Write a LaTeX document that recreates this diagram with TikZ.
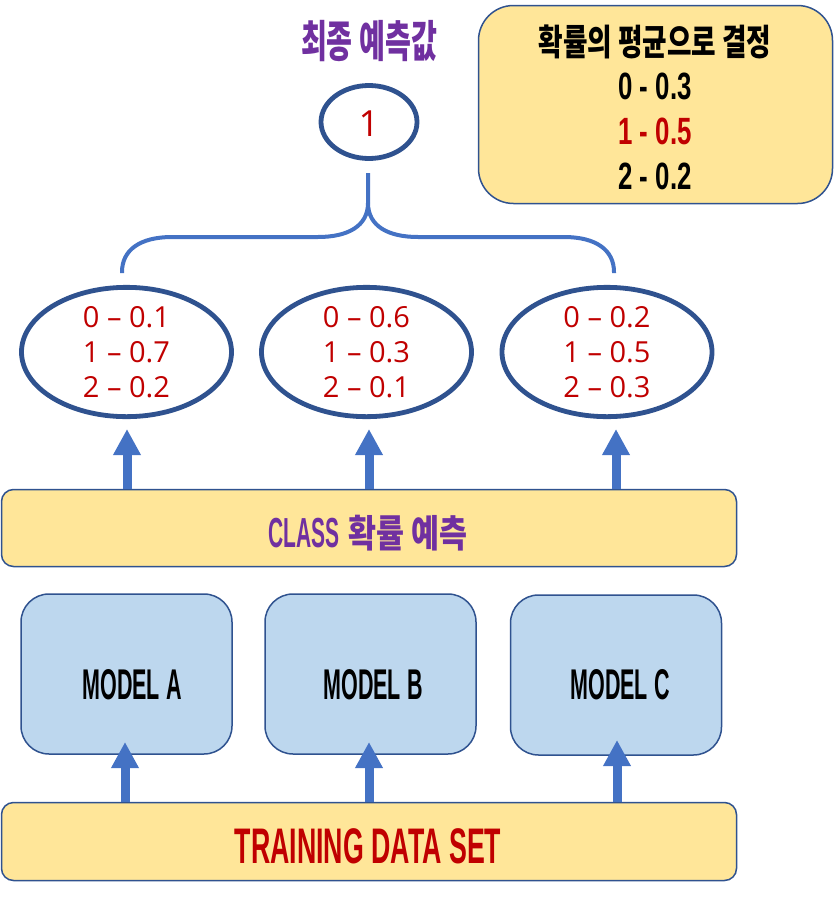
\documentclass[tikz,border=0pt]{standalone}
\usepackage{fontspec}
\usetikzlibrary{shapes.geometric,arrows.meta}
\newfontfamily\agency[FakeStretch=0.5]{Liberation Sans}
\newfontfamily\agencywide[FakeStretch=0.535]{Liberation Sans}
\newfontfamily\agencynum[FakeStretch=0.68]{Liberation Sans}
\newfontfamily\kortitle[FakeStretch=0.64]{Noto Sans CJK KR}
\newfontfamily\korhead[FakeStretch=0.74]{Noto Sans CJK KR}
\newfontfamily\korcls[FakeStretch=0.8]{Noto Sans CJK KR}
\newfontfamily\segoe{Open Sans}
\definecolor{cpurple}{HTML}{7030A0}
\definecolor{cred}{HTML}{C00000}
\definecolor{cborder}{HTML}{2F528F}
\definecolor{carrow}{HTML}{4472C4}
\definecolor{cyellow}{HTML}{FFE699}
\definecolor{cblue}{HTML}{BDD7EE}
\tikzset{
  ybox/.style={draw=cborder,line width=1.5pt,fill=cyellow,rounded corners=12pt,inner sep=0pt},
  mbox/.style={draw=cborder,line width=1.5pt,fill=cblue,rounded corners=28pt,inner sep=0pt,minimum width=211pt,minimum height=160pt},
  prob/.style={draw=cborder,line width=4.8pt,ellipse,inner sep=0pt,minimum width=210pt,minimum height=112pt,text=cred,font=\segoe\fontsize{29}{35}\selectfont,align=center},
  uparrow/.style={carrow,line width=9pt,-{Triangle[width=26pt,length=26pt]}},
  brace/.style={carrow,line width=4pt},
  txt/.style={anchor=base,inner sep=0pt},
  modeltxt/.style={txt,font=\agency\bfseries\fontsize{43}{48}\selectfont},
  avgtxt/.style={txt,font=\agencynum\bfseries\fontsize{38}{44}\selectfont},
}
\begin{document}
\begin{tikzpicture}[x=1pt,y=-1pt]
\useasboundingbox (0,0) rectangle (834,902);
% top-right box
\node[ybox,rounded corners=35pt,minimum width=354pt,minimum height=198pt] (avg) at (655.5,104.5) {};
\node[txt,font=\korhead\bfseries\fontsize{36}{40}\selectfont] (avgt) at (655,55) {확률의 평균으로 결정};
\node[avgtxt] (avg0) at (655,99) {0 - 0.3};
\node[avgtxt,text=cred] (avg1) at (655,144) {1 - 0.5};
\node[avgtxt] (avg2) at (655,189) {2 - 0.2};
% title and final ellipse
\node[txt,font=\kortitle\bfseries\fontsize{44}{48}\selectfont,text=cpurple] (title) at (369,57) {최종 예측값};
\node[draw=cborder,line width=4.8pt,ellipse,inner sep=0pt,minimum width=96pt,minimum height=73pt] (final) at (369,122) {};
\node[txt,font=\segoe\fontsize{36}{40}\selectfont,text=cred] (finalt) at (369,136) {1};
% brace
\coordinate (stem) at (368,173);
\coordinate (bl) at (122,273);
\coordinate (br) at (614,273);
\draw[brace] (bl) -- (122,272) .. controls (122,250) and (140,237) .. (172,237) -- (318,237)
  .. controls (348,237) and (368,226) .. (368,203) -- (stem);
\draw[brace] (368,203) .. controls (368,226) and (388,237) .. (418,237) -- (564,237)
  .. controls (596,237) and (614,250) .. (614,272) -- (br);
% probability ellipses
\node[prob] (pa) at (126.5,352) {0 – 0.1\\1 – 0.7\\2 – 0.2};
\node[prob] (pb) at (366.5,352) {0 – 0.6\\1 – 0.3\\2 – 0.1};
\node[prob] (pc) at (607,352) {0 – 0.2\\1 – 0.5\\2 – 0.3};
% class box
\node[ybox,minimum width=735pt,minimum height=77pt] (cls) at (369,528) {};
\node[txt,text=cpurple] (clst) at (368,547) {{\agency\bfseries\fontsize{42}{46}\selectfont CLASS}\hspace{9pt}{\korcls\bfseries\fontsize{38}{42}\selectfont 확률 예측}};
\draw[uparrow] (127,489) -- (127,429);
\draw[uparrow] (369,489) -- (369,429);
\draw[uparrow] (616,489) -- (616,429);
% model boxes
\node[mbox] (ma) at (126.5,674) {};
\node[mbox] (mb) at (370.5,674) {};
\node[mbox] (mc) at (616,675) {};
\node[modeltxt] (mat) at (132,699) {MODEL A};
\node[modeltxt] (mbt) at (373,699) {MODEL B};
\node[modeltxt] (mct) at (620,699) {MODEL C};
% training box
\node[ybox,minimum width=735pt,minimum height=78pt] (train) at (369,841.5) {};
\node[txt,font=\agencywide\bfseries\fontsize{50}{56}\selectfont,text=cred] (traint) at (368,863) {TRAINING DATA SET};
\draw[uparrow] (125,802) -- (125,742);
\draw[uparrow] (369,802) -- (369,742);
\draw[uparrow] (617,802) -- (617,740);
\end{tikzpicture}
\end{document}
